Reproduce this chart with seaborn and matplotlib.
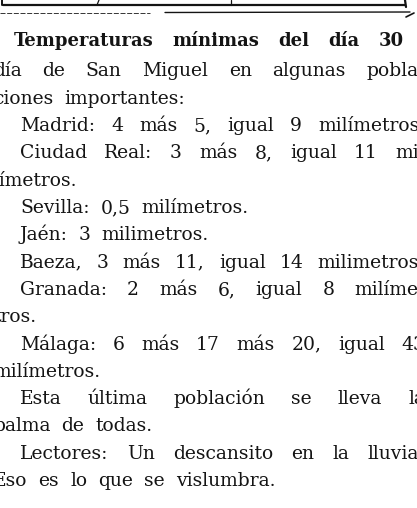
import matplotlib
matplotlib.use("Agg")
import matplotlib.pyplot as plt
import seaborn as sns

# text content of the clipping
title = "Temperaturas mínimas del día 30"
body_lines = [
    "día de San Miguel en algunas pobla-",
    "ciones importantes:",
    "Madrid: 4 más 5, igual 9 milímetros.",
    "Ciudad Real: 3 más 8, igual 11 mi-",
    "límetros.",
    "Sevilla: 0,5 milímetros.",
    "Jaén: 3 milimetros.",
    "Baeza, 3 más 11, igual 14 milimetros.",
    "Granada: 2 más 6, igual 8 milíme-",
    "tros.",
    "Málaga: 6 más 17 más 20, igual 43",
    "milímetros.",
    "Esta última población se lleva la",
    "palma de todas.",
    "Lectores: Un descansito en la lluvia.",
    "Eso es lo que se vislumbra.",
]
indented = [0, 0, 1, 1, 0, 1, 1, 1, 1, 0, 1, 0, 1, 0, 1, 0]
justified = [1, 0, 1, 1, 0, 0, 0, 1, 1, 0, 1, 0, 1, 0, 1, 0]

W, H = 417, 508
sns.set_theme(style="white")
plt.rcParams["font.family"] = ["DejaVu Serif", "DejaVu Sans"]

fig = plt.figure(figsize=(W / 100, H / 100), dpi=100)
fig.patch.set_facecolor("white")
ax = fig.add_axes([0, 0, 1, 1])
ax.set_xlim(0, W)
ax.set_ylim(H, 0)
ax.axis("off")
renderer = fig.canvas.get_renderer()

ink = "#141414"


def word_widths(words, **kw):
    out = []
    for w in words:
        t = ax.text(0, 0, w, **kw)
        out.append(t.get_window_extent(renderer).width)
        t.remove()
    return out


def set_line(text, x0, x1, y, justify, gap, **kw):
    # place word by word so that full lines are justified like the column
    words = text.split()
    widths = word_widths(words, **kw)
    if justify and len(words) > 1:
        gap = (x1 - x0 - sum(widths)) / (len(words) - 1)
    x = x0
    for w, wd in zip(words, widths):
        ax.text(x, y, w, ha="left", va="baseline", color=ink, **kw)
        x += wd + gap


# rules of the box above the headline
ax.plot([3, 405], [5, 5], color=ink, lw=1.6)
ax.plot([2.5, 2.5], [0, 5], color=ink, lw=1.4)
ax.plot([405, 406], [0, 7], color=ink, lw=1.6)
ax.plot([97, 99], [5, 0], color=ink, lw=0.9)
ax.plot([231, 231], [5, 0], color=ink, lw=0.9)
ax.plot([0, 150], [12.5, 12.5], color=ink, lw=0.6, ls=(0, (6, 2)))
ax.plot([165, 410], [12.5, 12], color=ink, lw=1.0)
ax.plot([406, 414], [17, 13], color=ink, lw=1.2)

# headline
set_line(title, 14, 404, 46, True, 0, fontsize=13, fontweight="bold")

# body
left, indent, right = -7, 20, 425
y0, step = 76.5, 27.3
for i, line in enumerate(body_lines):
    x0 = indent if indented[i] else left
    set_line(line, x0, right, y0 + i * step, justified[i], 11, fontsize=13.5)

fig.savefig("out.png", dpi=100, facecolor="white")
